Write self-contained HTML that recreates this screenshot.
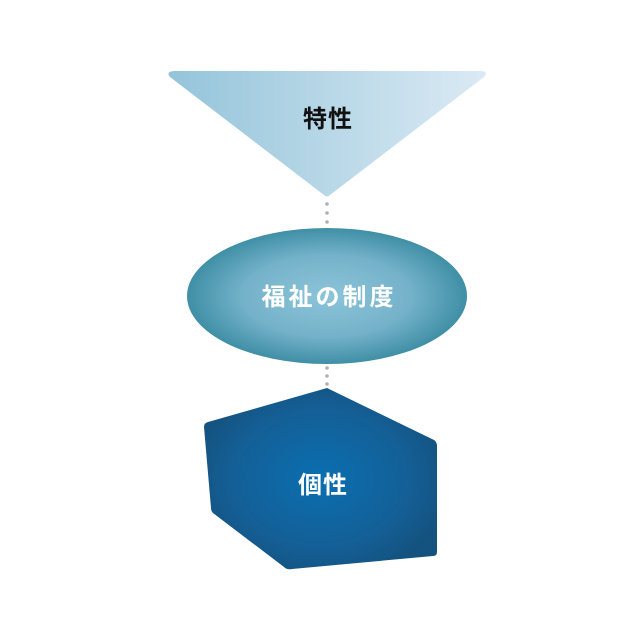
<!DOCTYPE html>
<html><head><meta charset="utf-8"><style>
html,body{margin:0;padding:0;background:#fff;}
svg{display:block;}
text{font-family:"Liberation Sans","Noto Sans CJK JP",sans-serif;font-weight:bold;}
</style></head><body>
<svg width="640" height="640" viewBox="0 0 640 640" xmlns="http://www.w3.org/2000/svg">
<defs>
<linearGradient id="g1" x1="0" y1="0" x2="1" y2="0">
<stop offset="0" stop-color="#94c4da"/><stop offset="1" stop-color="#dbeaf4"/>
</linearGradient>
<radialGradient id="g2" cx="0.5" cy="0.5" r="0.5">
<stop offset="0" stop-color="#8dc4d9"/><stop offset="0.6" stop-color="#74b2c9"/><stop offset="1" stop-color="#3f8fa6"/>
</radialGradient>
<radialGradient id="g3" cx="0.5" cy="0.5" r="0.55">
<stop offset="0" stop-color="#0a6fb0"/><stop offset="0.7" stop-color="#145f96"/><stop offset="1" stop-color="#145380"/>
</radialGradient>
</defs>
<path d="M176,71 L481,71 Q489,71 484,77 L330,195 Q327,198 324,195 L170,77 Q165,71 176,71 Z" fill="url(#g1)"/>
<text x="328" y="127" font-size="24" text-anchor="middle" fill="#111" letter-spacing="1">特性</text>
<g fill="#b0b0b0">
<circle cx="327" cy="204" r="1.8"/><circle cx="327" cy="213" r="1.8"/><circle cx="327" cy="222" r="1.8"/>
<circle cx="327" cy="368" r="1.8"/><circle cx="327" cy="376" r="1.8"/><circle cx="327" cy="384" r="1.8"/>
</g>
<ellipse cx="327" cy="296" rx="140" ry="68" fill="url(#g2)"/>
<text x="329" y="305" font-size="24" text-anchor="middle" fill="#fff" letter-spacing="3">福祉の制度</text>
<path d="M327,388 L434,440 Q437,442 437,446 L437,552 Q437,556 433,556 L292,569 Q287,570 284,567 L213,513 Q211,511 211,508 L204,427 Q204,423 208,422 Z" fill="url(#g3)"/>
<text x="323" y="493" font-size="24" text-anchor="middle" fill="#fff" letter-spacing="1">個性</text>
</svg>
</body></html>
